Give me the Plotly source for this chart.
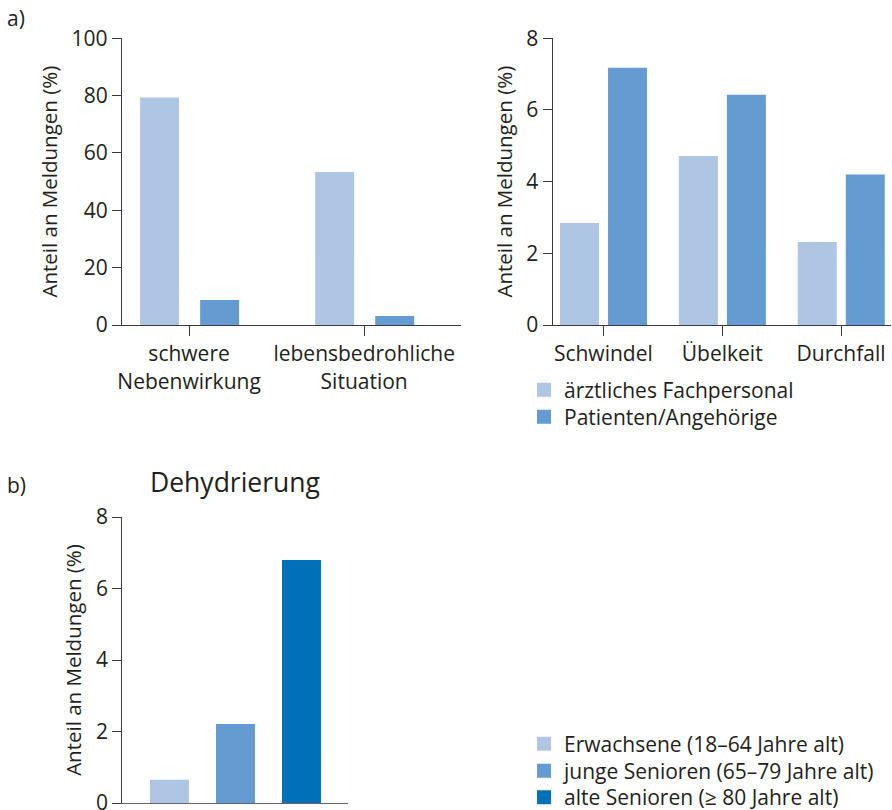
import plotly.graph_objects as go

# ---- data ----
cats_a1 = ["schwere<br>Nebenwirkung", "lebensbedrohliche<br>Situation"]
fach_a1 = [79, 53]
pat_a1 = [8.4, 2.8]

cats_a2 = ["Schwindel", "Übelkeit", "Durchfall"]
fach_a2 = [2.82, 4.69, 2.29]
pat_a2 = [7.15, 6.40, 4.17]

series_a = ["ärztliches Fachpersonal", "Patienten/Angehörige"]

groups_b = ["Erwachsene (18–64 Jahre alt)", "junge Senioren (65–79 Jahre alt)", "alte Senioren (≥ 80 Jahre alt)"]
values_b = [0.62, 2.18, 6.77]

C_LIGHT = "#afc5e4"
C_MED = "#649bd0"
C_DARK = "#0070b9"
TXT = "#231f20"
AX = "#3a3a3a"
FONT = "Open Sans"
FS = 21

W, H = 892, 810

def px_x(a, b):
    return [a / W, b / W]

def px_y(top, bottom):
    return [1 - bottom / H, 1 - top / H]

def mk(c):
    return dict(color=c, line=dict(color=c, width=2))

fig = go.Figure()

# top-left (bar widths reduced by the 2px outline)
fig.add_bar(x=cats_a1, y=fach_a1, name=series_a[0], marker=mk(C_LIGHT),
            width=0.211, offset=-0.274, xaxis="x", yaxis="y",
            legend="legend", legendgroup="a0", showlegend=True)
fig.add_bar(x=cats_a1, y=pat_a1, name=series_a[1], marker=mk(C_MED),
            width=0.211, offset=0.069, xaxis="x", yaxis="y",
            legend="legend2", legendgroup="a1", showlegend=True)
# top-right
fig.add_bar(x=cats_a2, y=fach_a2, name=series_a[0], marker=mk(C_LIGHT),
            width=0.311, offset=-0.356, xaxis="x2", yaxis="y2",
            legendgroup="a0", showlegend=False)
fig.add_bar(x=cats_a2, y=pat_a2, name=series_a[1], marker=mk(C_MED),
            width=0.311, offset=0.048, xaxis="x2", yaxis="y2",
            legendgroup="a1", showlegend=False)
# bottom
for i, (g, v, c) in enumerate(zip(groups_b, values_b, [C_LIGHT, C_MED, C_DARK])):
    fig.add_bar(x=[g], y=[v], name=g, marker=mk(c), width=0.56, offset=-0.28,
                xaxis="x3", yaxis="y3", legend="legend%d" % (i + 3))

axis_common = dict(showline=True, linecolor=AX, linewidth=1.3, showgrid=False,
                   zeroline=False, tickfont=dict(family=FONT, size=FS, color=TXT),
                   ticks="outside", tickcolor=AX, tickwidth=1.3, automargin=False,
                   ticklabeloverflow="allow")
ytitle = dict(text="Anteil an Meldungen (%)", font=dict(family=FONT, size=20.5, color=TXT), standoff=8)

def leg(ypx):
    return dict(x=524 / W, y=1 - ypx / H, xanchor="left", yanchor="middle",
                font=dict(family=FONT, size=FS, color=TXT), bgcolor="rgba(0,0,0,0)",
                itemwidth=30, borderwidth=0)

fig.update_layout(
    width=W, height=H, margin=dict(l=0, r=0, t=0, b=0, autoexpand=False),
    paper_bgcolor="white", plot_bgcolor="white",
    barmode="group",
    font=dict(family=FONT, size=FS, color=TXT),
    xaxis=dict(domain=px_x(122, 461), anchor="y", type="category",
               range=[-0.383, 1.553], ticklen=10, **axis_common),
    yaxis=dict(domain=px_y(38.3, 325), anchor="x", range=[0, 100], dtick=20,
               ticklen=9, title=ytitle, **axis_common),
    xaxis2=dict(domain=px_x(552.7, 891), anchor="y2", type="category",
                range=[-0.426, 2.42], ticklen=10, **axis_common),
    yaxis2=dict(domain=px_y(38.3, 325), anchor="x2", range=[0, 8], dtick=2,
                ticklen=9, title=ytitle, **axis_common),
    xaxis3=dict(domain=px_x(122.3, 348), anchor="y3", type="category",
                range=[-0.715, 2.705], showline=True, linecolor="#666", linewidth=1.3,
                showgrid=False, zeroline=False, showticklabels=False, ticks="",
                automargin=False),
    yaxis3=dict(domain=px_y(517, 803), anchor="x3", range=[0, 8], dtick=2,
                ticklen=9, title=ytitle, **axis_common),
    legend=leg(390),
    legend2=leg(417),
    legend3=leg(744),
    legend4=leg(771),
    legend5=leg(797.5),
    annotations=[
        dict(text="a)", x=5 / W, y=1 - 18 / H, xref="paper", yref="paper",
             xanchor="left", yanchor="middle", showarrow=False,
             font=dict(family=FONT, size=FS, color=TXT)),
        dict(text="b)", x=5 / W, y=1 - 485 / H, xref="paper", yref="paper",
             xanchor="left", yanchor="middle", showarrow=False,
             font=dict(family=FONT, size=FS, color=TXT)),
        dict(text="Dehydrierung", x=235 / W, y=1 - 482 / H, xref="paper", yref="paper",
             xanchor="center", yanchor="middle", showarrow=False,
             font=dict(family=FONT, size=26.5, color=TXT)),
    ],
)

fig.write_html("out.html", config={"displayModeBar": False},
               post_script="document.body.style.margin='0';document.body.style.overflow='hidden';")
